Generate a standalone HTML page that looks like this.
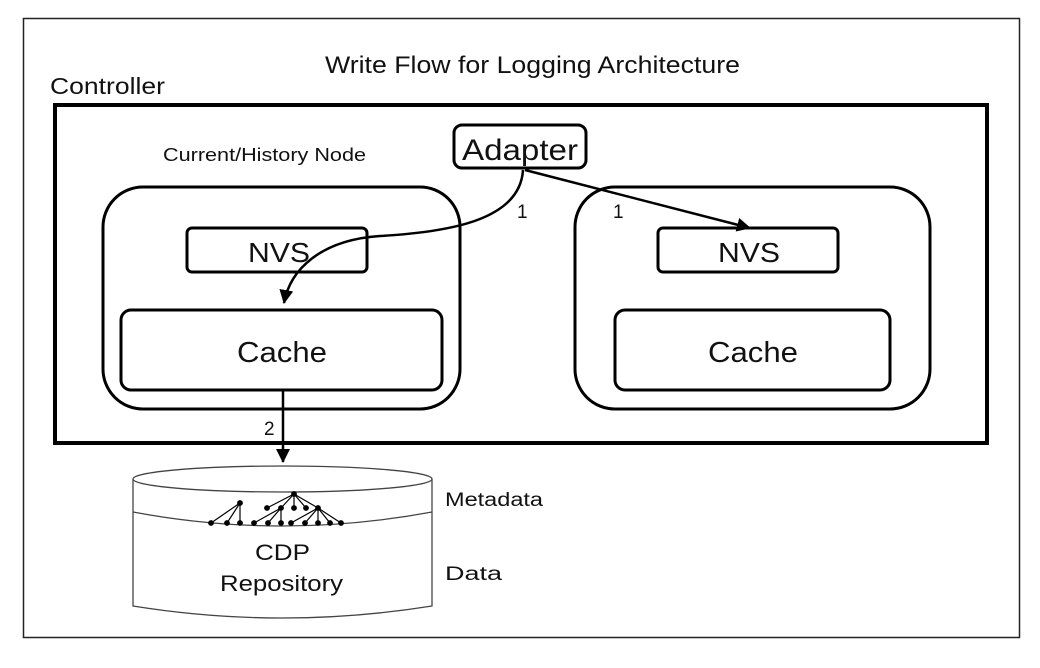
<!DOCTYPE html>
<html><head><meta charset="utf-8"><style>
html,body{margin:0;padding:0;background:#fff}
svg{display:block}
text{font-family:"Liberation Sans",sans-serif;fill:#111}
</style></head><body>
<svg width="1040" height="668" viewBox="0 0 1040 668" xmlns="http://www.w3.org/2000/svg">
<defs>
<marker id="ah2" markerWidth="14" markerHeight="14" refX="13" refY="7" orient="auto" markerUnits="userSpaceOnUse" viewBox="0 0 14 14"><path d="M0,0 L14,7 L0,14 z" fill="#000"/></marker>
</defs>
<rect x="23.5" y="18.5" width="996" height="619" fill="none" stroke="#222" stroke-width="1.5"/>
<text x="325" y="73" font-size="24" textLength="415" lengthAdjust="spacingAndGlyphs">Write Flow for Logging Architecture</text>
<text x="50" y="94" font-size="23" textLength="115" lengthAdjust="spacingAndGlyphs">Controller</text>
<rect x="55" y="105" width="932" height="338" fill="none" stroke="#000" stroke-width="4"/>
<text x="163" y="161" font-size="18" textLength="203" lengthAdjust="spacingAndGlyphs">Current/History Node</text>
<rect x="454" y="125" width="132" height="43" rx="8" fill="#fff" stroke="#000" stroke-width="3"/>
<text x="462" y="160" font-size="30" textLength="116" lengthAdjust="spacingAndGlyphs">Adapter</text>
<rect x="103" y="187" width="357" height="222" rx="40" fill="none" stroke="#000" stroke-width="3"/>
<rect x="575" y="187" width="355" height="222" rx="40" fill="none" stroke="#000" stroke-width="3"/>
<rect x="187" y="228" width="180" height="44" rx="5" fill="none" stroke="#000" stroke-width="3"/>
<text x="248" y="262" font-size="28" textLength="62" lengthAdjust="spacingAndGlyphs">NVS</text>
<rect x="658" y="228" width="180" height="44" rx="5" fill="none" stroke="#000" stroke-width="3"/>
<text x="718" y="262" font-size="28" textLength="62" lengthAdjust="spacingAndGlyphs">NVS</text>
<rect x="121" y="310" width="321" height="80" rx="10" fill="none" stroke="#000" stroke-width="3"/>
<text x="237" y="362" font-size="29" textLength="90" lengthAdjust="spacingAndGlyphs">Cache</text>
<rect x="615" y="310" width="275" height="80" rx="10" fill="none" stroke="#000" stroke-width="3"/>
<text x="708" y="362" font-size="29" textLength="90" lengthAdjust="spacingAndGlyphs">Cache</text>
<path d="M523,170 C520,220 450,232 380,236 C320,240 290,270 284,303" fill="none" stroke="#000" stroke-width="2.5" marker-end="url(#ah2)"/>
<path d="M525,170 L750,228" fill="none" stroke="#000" stroke-width="2.5" marker-end="url(#ah2)"/>
<text x="517" y="218" font-size="19">1</text>
<text x="613" y="218" font-size="19">1</text>
<path d="M283,390 L283,462" fill="none" stroke="#000" stroke-width="2.5" marker-end="url(#ah2)"/>
<text x="264" y="435" font-size="19">2</text>
<path d="M133,479 L133,606 Q282,630 432,606 L432,479" fill="#fff" stroke="#444" stroke-width="1.3"/>
<ellipse cx="282.5" cy="479" rx="149.5" ry="13" fill="#fff" stroke="#444" stroke-width="1.3"/>
<path d="M133,512 Q282,540 432,512" fill="none" stroke="#444" stroke-width="1.3"/>
<g stroke="#000" stroke-width="1.2" fill="#000">
<line x1="240" y1="503" x2="211" y2="523"/><line x1="240" y1="503" x2="227" y2="523"/><line x1="240" y1="503" x2="240" y2="523"/>
<line x1="294" y1="494" x2="267" y2="508"/><line x1="294" y1="494" x2="281" y2="508"/><line x1="294" y1="494" x2="294" y2="508"/><line x1="294" y1="494" x2="306" y2="508"/><line x1="294" y1="494" x2="318" y2="508"/>
<line x1="281" y1="508" x2="254" y2="523"/><line x1="281" y1="508" x2="268" y2="523"/><line x1="281" y1="508" x2="281" y2="523"/>
<line x1="318" y1="508" x2="291" y2="523"/><line x1="318" y1="508" x2="305" y2="523"/><line x1="318" y1="508" x2="318" y2="523"/><line x1="318" y1="508" x2="330" y2="523"/><line x1="318" y1="508" x2="341" y2="523"/>
<circle cx="240" cy="503" r="2.3"/><circle cx="211" cy="523" r="2.3"/><circle cx="227" cy="523" r="2.3"/><circle cx="240" cy="523" r="2.3"/>
<circle cx="294" cy="494" r="2.3"/><circle cx="267" cy="508" r="2.3"/><circle cx="281" cy="508" r="2.3"/><circle cx="294" cy="508" r="2.3"/><circle cx="306" cy="508" r="2.3"/><circle cx="318" cy="508" r="2.3"/>
<circle cx="254" cy="523" r="2.3"/><circle cx="268" cy="523" r="2.3"/><circle cx="281" cy="523" r="2.3"/>
<circle cx="291" cy="523" r="2.3"/><circle cx="305" cy="523" r="2.3"/><circle cx="318" cy="523" r="2.3"/><circle cx="330" cy="523" r="2.3"/><circle cx="341" cy="523" r="2.3"/>
</g>
<text x="255" y="560" font-size="22" textLength="55" lengthAdjust="spacingAndGlyphs">CDP</text>
<text x="220" y="591" font-size="22" textLength="123" lengthAdjust="spacingAndGlyphs">Repository</text>
<text x="445" y="506" font-size="19" textLength="98" lengthAdjust="spacingAndGlyphs">Metadata</text>
<text x="445" y="580" font-size="19" textLength="57" lengthAdjust="spacingAndGlyphs">Data</text>
</svg>
</body></html>
